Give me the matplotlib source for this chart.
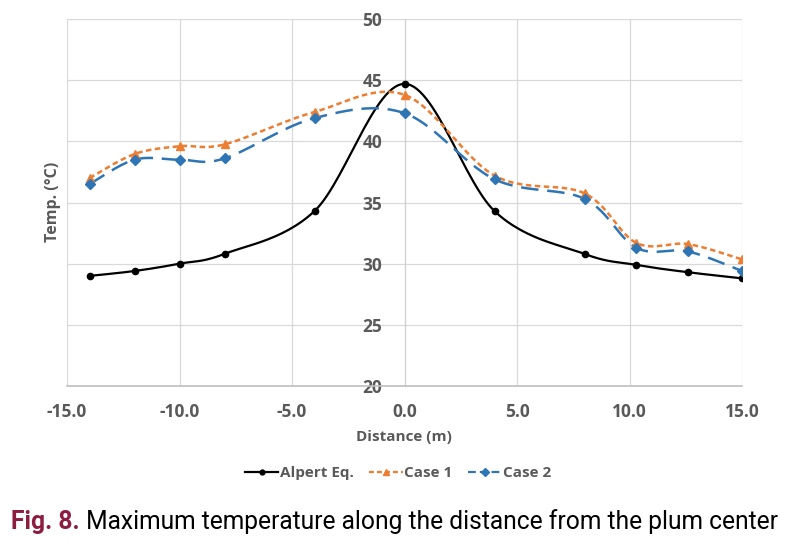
import numpy as np
import matplotlib
matplotlib.use("Agg")
import matplotlib.pyplot as plt
from matplotlib import font_manager
from matplotlib.lines import Line2D

# ---- data ----
distance = [-14.0, -12.0, -10.0, -8.0, -4.0, 0.0, 4.0, 8.0, 10.3, 12.6, 15.0]
alpert = [29.0, 29.4, 30.0, 30.8, 34.3, 44.7, 34.3, 30.8, 29.9, 29.3, 28.8]
case1 = [37.0, 38.96, 39.6, 39.75, 42.4, 43.8, 37.2, 35.75, 31.7, 31.6, 30.35]
case2 = [36.5, 38.5, 38.5, 38.6, 41.9, 42.3, 36.9, 35.3, 31.3, 31.0, 29.4]
labels = ["Alpert Eq.", "Case 1", "Case 2"]
xticks = [-15.0, -10.0, -5.0, 0.0, 5.0, 10.0, 15.0]
yticks = [20, 25, 30, 35, 40, 45, 50]

GRAY = "#595959"
ORANGE = "#ED7D31"
BLUE = "#2E75B6"

def pick_font(cands):
    for c in cands:
        try:
            font_manager.findfont(font_manager.FontProperties(family=c), fallback_to_default=False)
            return c
        except Exception:
            pass
    return "DejaVu Sans"

FONT = pick_font(["Open Sans", "Lato", "DejaVu Sans"])
CAPFONT = pick_font(["Liberation Sans Narrow", "Roboto", "Open Sans"])
plt.rcParams['font.family'] = [FONT, 'DejaVu Sans']

def smooth(x, y, n=30):
    # Excel-like smoothed line (Catmull-Rom Bezier)
    P = np.column_stack([x, y]).astype(float)
    m = len(P)
    out = []
    for i in range(m - 1):
        p0 = P[i - 1] if i > 0 else P[i]
        p1 = P[i]
        p2 = P[i + 1]
        p3 = P[i + 2] if i + 2 < m else P[i + 1]
        b1 = p1 + (p2 - p0) / 6.0
        b2 = p2 - (p3 - p1) / 6.0
        t = np.linspace(0, 1, n)[:, None]
        seg = (1 - t) ** 3 * p1 + 3 * (1 - t) ** 2 * t * b1 + 3 * (1 - t) * t ** 2 * b2 + t ** 3 * p2
        if i > 0:
            seg = seg[1:]
        out.append(seg)
    S = np.vstack(out)
    return S[:, 0], S[:, 1]

W, H = 805, 542
fig = plt.figure(figsize=(W / 100, H / 100), dpi=100)
L, R, T, B = 67, 742, 19, 386
ax = fig.add_axes([L / W, 1 - B / H, (R - L) / W, (B - T) / H])

ax.set_xlim(-15, 15)
ax.set_ylim(20, 50)
ax.set_xticks(xticks)
ax.set_xticklabels([f"{v:.1f}" for v in xticks])
ax.set_yticks(yticks)
ax.grid(True, color="#D9D9D9", linewidth=0.9)
ax.set_axisbelow(True)
for s in ["top", "right"]:
    ax.spines[s].set_visible(False)
ax.spines["left"].set_position(("data", 0))
ax.spines["left"].set_color("#D0D0D0")
ax.spines["bottom"].set_color("#BFBFBF")
ax.spines["bottom"].set_linewidth(1.2)
ax.tick_params(axis="both", length=0, labelcolor=GRAY, labelsize=12.5)
ax.tick_params(axis="y", pad=16)
ax.tick_params(axis="x", pad=12)
for lab in ax.get_xticklabels() + ax.get_yticklabels():
    lab.set_fontweight("bold")

# series
sx, sy = smooth(distance, alpert)
ax.plot(sx, sy, color="black", lw=1.6, zorder=3)
ax.plot(distance, alpert, ls="none", marker="o", ms=4.5, color="black", zorder=4)

sx, sy = smooth(distance, case1)
ax.plot(sx, sy, color=ORANGE, lw=1.8, ls=(0, (2.2, 1.4)), zorder=3)
ax.plot(distance, case1, ls="none", marker="^", ms=6, color=ORANGE, zorder=4)

sx, sy = smooth(distance, case2)
ax.plot(sx, sy, color=BLUE, lw=1.8, ls=(0, (7, 3.5)), zorder=3)
ax.plot(distance, case2, ls="none", marker="D", ms=5, color=BLUE, zorder=4)

# axis titles
fig.text(53 / W, 1 - 202 / H, "Temp. (°C)", rotation=90, ha="center", va="center",
         color=GRAY, fontsize=11.5, fontweight="bold")
fig.text(404 / W, 1 - 437 / H, "Distance (m)", ha="center", va="center",
         color=GRAY, fontsize=11, fontweight="bold")

# legend
handles = [
    Line2D([], [], color="black", lw=1.6, marker="o", ms=3.5),
    Line2D([], [], color=ORANGE, lw=1.6, ls=(0, (2.2, 1.4)), marker="^", ms=5),
    Line2D([], [], color=BLUE, lw=1.6, ls=(0, (3.5, 1.8)), marker="D", ms=4),
]
leg = fig.legend(handles, labels, loc="center", bbox_to_anchor=(398 / W, 1 - 473 / H),
                 ncol=3, frameon=False, handlelength=2.2, handletextpad=0.1,
                 columnspacing=1.0, prop={"weight": "bold", "size": 11})
for t in leg.get_texts():
    t.set_color(GRAY)

# caption
renderer = fig.canvas.get_renderer()
cap_y = 1 - 529 / H
t1 = fig.text(11 / W, cap_y, "Fig. 8.", color="#8C1D40", fontsize=16,
              family=CAPFONT, fontweight="bold", va="baseline")
t2 = fig.text(0, cap_y, " Maximum temperature along the distance from the plum center",
              color="black", fontsize=16, family=CAPFONT, va="baseline")
target = 782 - 11
for _ in range(3):
    e1 = t1.get_window_extent(renderer)
    t2.set_x(e1.x1 / W)
    e2 = t2.get_window_extent(renderer)
    tot = e2.x1 - e1.x0
    fs = t1.get_fontsize() * target / tot
    t1.set_fontsize(fs)
    t2.set_fontsize(fs)
e1 = t1.get_window_extent(renderer)
t2.set_x(e1.x1 / W)

fig.savefig("out.png", dpi=100)
